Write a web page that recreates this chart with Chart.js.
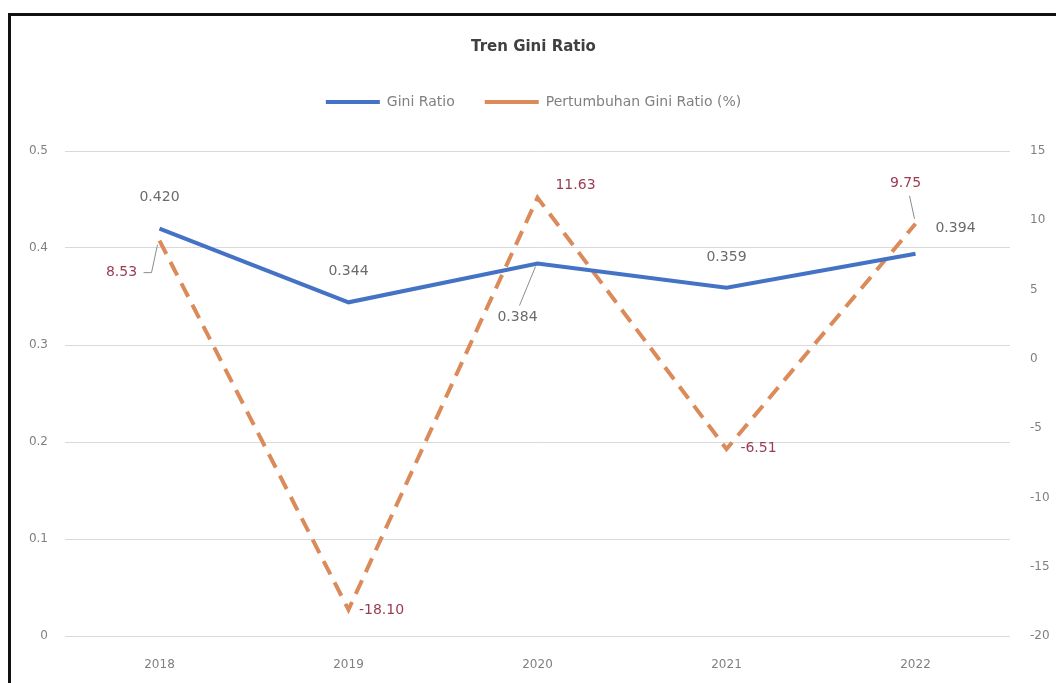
<!DOCTYPE html>
<html>
<head>
<meta charset="utf-8">
<script src="https://cdn.jsdelivr.net/npm/chart.js@4.4.1/dist/chart.umd.min.js"></script>
<style>
    html, body { margin: 0; padding: 0; background: #fff; }
    #wrap { position: relative; width: 1056px; height: 683px; }
    #frame { position: absolute; left: 8px; top: 13px; right: -4px; bottom: -4px; border: 3px solid #111; box-sizing: border-box; }
    canvas { position: absolute; left: 0; top: 0; }
</style>
</head>
<body>
<div id="wrap">
    <div id="frame"></div>
    <canvas id="chart" width="1056" height="683"></canvas>
</div>
<script>
// Data
const years = ['2018', '2019', '2020', '2021', '2022'];
const giniRatio = [0.420, 0.344, 0.384, 0.359, 0.394];
const giniGrowth = [8.53, -18.10, 11.63, -6.51, 9.75];
const giniTicks = [0, 0.1, 0.2, 0.3, 0.4, 0.5];
const growthTicks = [-20, -15, -10, -5, 0, 5, 10, 15];

// Label placement (offsets from the point, px) and optional leader lines
const giniLabelPos = [
    { dx: 0, dy: -31 },
    { dx: 0, dy: -31 },
    { dx: -20, dy: 54, leader: true },
    { dx: 0, dy: -30 },
    { dx: 40, dy: -25 }
];
const growthLabelPos = [
    { dx: -38, dy: 32, leader: true },
    { dx: 33, dy: 1 },
    { dx: 38, dy: -12 },
    { dx: 32, dy: -1 },
    { dx: -10, dy: -40, leader: true }
];

const FONT = "'DejaVu Sans', sans-serif";

// extra space between legend and plot area
const legendGap = {
    id: 'legendGap',
    beforeInit(chart) {
        const fit = chart.legend.fit;
        chart.legend.fit = function () {
            fit.call(this);
            this.height += 32;
        };
    }
};

const pointLabels = {
    id: 'pointLabels',
    afterDatasetsDraw(chart) {
        const ctx = chart.ctx;
        const sets = [
            { idx: 0, pos: giniLabelPos, color: '#6B6B6B', fmt: v => v.toFixed(3) },
            { idx: 1, pos: growthLabelPos, color: '#9B3B52', fmt: v => v.toFixed(2) }
        ];
        ctx.save();
        ctx.font = '14px ' + FONT;
        ctx.textAlign = 'center';
        ctx.textBaseline = 'middle';
        sets.forEach(s => {
            const meta = chart.getDatasetMeta(s.idx);
            const values = chart.data.datasets[s.idx].data;
            meta.data.forEach((pt, i) => {
                const p = s.pos[i];
                const lx = pt.x + p.dx;
                const ly = pt.y + p.dy;
                if (p.leader) {
                    ctx.strokeStyle = '#8C8C8C';
                    ctx.lineWidth = 1;
                    ctx.beginPath();
                    if (p.dx < -30) {
                        ctx.moveTo(lx + 22, ly);
                        ctx.lineTo(lx + 30, ly);
                        ctx.lineTo(pt.x - 2, pt.y + 4);
                    } else if (p.dy > 0) {
                        ctx.moveTo(lx + 2, ly - 12);
                        ctx.lineTo(pt.x - 2, pt.y + 3);
                    } else {
                        ctx.moveTo(lx + 4, ly + 12);
                        ctx.lineTo(pt.x - 1, pt.y - 5);
                    }
                    ctx.stroke();
                }
                ctx.fillStyle = s.color;
                ctx.fillText(s.fmt(values[i]), lx, ly);
            });
        });
        ctx.restore();
    }
};

new Chart(document.getElementById('chart'), {
    type: 'line',
    data: {
        labels: years,
        datasets: [{
            label: 'Gini Ratio',
            data: giniRatio,
            yAxisID: 'y',
            borderColor: '#4472C4',
            backgroundColor: '#4472C4',
            borderWidth: 4,
            pointRadius: 0,
            tension: 0
        }, {
            label: 'Pertumbuhan Gini Ratio (%)',
            data: giniGrowth,
            yAxisID: 'y1',
            borderColor: '#DB8a5A',
            backgroundColor: '#DB8A5A',
            borderWidth: 4,
            borderDash: [15, 9],
            pointRadius: 0,
            tension: 0
        }]
    },
    options: {
        responsive: false,
        animation: false,
        layout: { padding: { top: 14, left: 11, right: 0, bottom: 0 } },
        plugins: {
            title: {
                display: true,
                text: 'Tren Gini Ratio',
                color: '#404040',
                font: { family: FONT, size: 15, weight: 'bold' },
                padding: { top: 24, bottom: 9 }
            },
            legend: {
                position: 'top',
                labels: {
                    color: '#808080',
                    font: { family: FONT, size: 14 },
                    usePointStyle: true,
                    pointStyle: 'line',
                    pointStyleWidth: 54,
                    padding: 30
                }
            },
            tooltip: { enabled: false }
        },
        scales: {
            x: {
                offset: true,
                grid: { display: false },
                border: { display: false },
                ticks: { color: '#808080', font: { family: FONT, size: 12 }, padding: 14 },
                afterFit: s => { s.height = 47; }
            },
            y: {
                position: 'left',
                min: 0,
                max: 0.5,
                afterBuildTicks: s => { s.ticks = giniTicks.map(v => ({ value: v })); },
                ticks: {
                    color: '#808080',
                    font: { family: FONT, size: 12 },
                    padding: 17,
                    callback: v => String(v)
                },
                grid: { color: '#D9D9D9', lineWidth: 1, drawTicks: false },
                border: { display: false },
                afterFit: s => { s.width = 54; }
            },
            y1: {
                position: 'right',
                min: -20,
                max: 15,
                afterBuildTicks: s => { s.ticks = growthTicks.map(v => ({ value: v })); },
                ticks: {
                    color: '#808080',
                    font: { family: FONT, size: 12 },
                    padding: 12,
                    callback: v => String(v)
                },
                grid: { display: false },
                border: { display: false },
                afterFit: s => { s.width = 46; }
            }
        }
    },
    plugins: [legendGap, pointLabels]
});
</script>
</body>
</html>
